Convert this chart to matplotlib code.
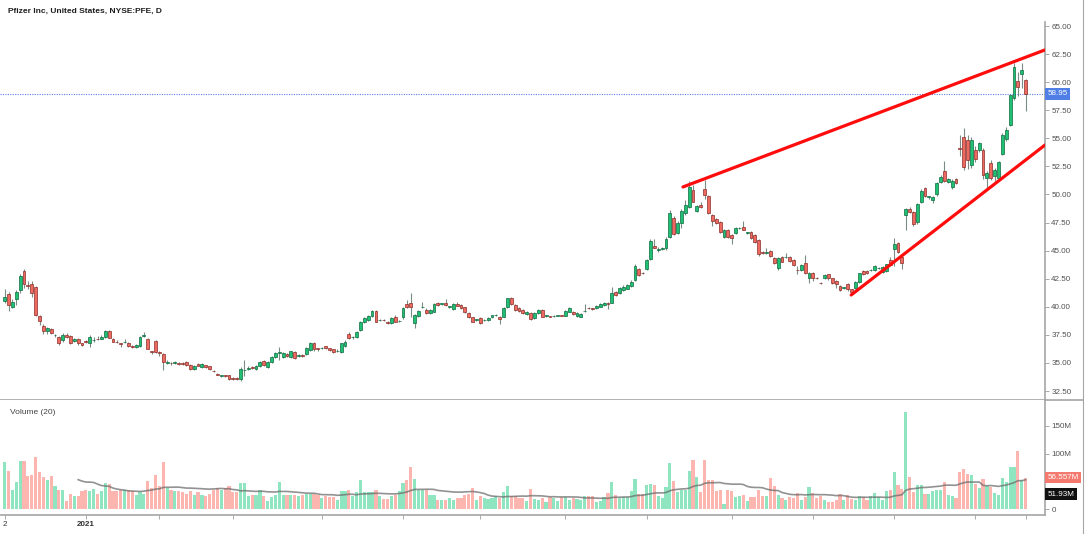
import numpy as np
import pandas as pd
import matplotlib
matplotlib.use("Agg")
import matplotlib.pyplot as plt
import matplotlib.transforms as mtransforms
from matplotlib.lines import Line2D

plt.rcParams['font.family'] = ['Liberation Sans', 'DejaVu Sans']

# ---------------- data (daily bars, PFE) ----------------
opens = [
    40.55, 41.10, 40.00, 40.70, 41.45, 43.20, 41.97, 42.00, 41.75, 39.20,
    38.30, 37.87, 38.05, 37.45, 37.30, 37.05, 37.47, 37.40, 36.95, 37.10,
    36.75, 36.95, 36.80, 37.00, 37.15, 37.16, 37.30, 37.80, 37.13, 36.90,
    36.75, 36.85, 36.80, 36.50, 36.40, 36.50, 37.40, 37.13, 36.05, 36.95,
    36.00, 35.80, 35.00, 35.00, 34.98, 35.00, 35.00, 35.10, 34.80, 34.50,
    34.90, 34.60, 34.80, 34.70, 34.30, 34.00, 33.85, 33.90, 33.90, 33.70,
    33.70, 33.55, 34.35, 34.50, 34.65, 34.50, 34.75, 35.17, 34.61, 35.08,
    35.50, 35.90, 35.55, 35.80, 35.55, 35.97, 35.65, 35.70, 35.80, 36.15,
    36.75, 36.25, 36.30, 36.50, 36.30, 36.20, 36.05, 36.00, 36.50, 37.55,
    37.30, 37.28, 37.93, 38.62, 38.82, 39.20, 39.60, 38.80, 38.80, 38.60,
    38.58, 39.06, 38.70, 39.06, 40.25, 40.30, 38.53, 39.15, 39.95, 39.71,
    39.47, 39.56, 40.30, 40.25, 40.30, 40.00, 39.78, 40.25, 40.16, 39.95,
    39.42, 39.06, 38.82, 38.97, 38.80, 38.82, 39.10, 39.24, 39.12, 39.12,
    39.95, 40.75, 40.16, 39.86, 39.71, 39.35, 39.47, 38.97, 39.42, 39.71,
    39.18, 39.15, 39.15, 39.20, 39.25, 39.20, 39.56, 39.56, 39.18, 39.12,
    39.60, 39.90, 39.85, 39.86, 40.00, 40.16, 40.30, 40.36, 41.32, 41.20,
    41.50, 41.61, 41.85, 42.38, 43.33, 43.00, 43.34, 44.23, 45.40, 45.10,
    45.15, 45.20, 46.20, 47.88, 46.54, 47.43, 48.32, 48.90, 50.40, 48.55,
    49.06, 50.46, 49.86, 48.17, 47.80, 47.56, 46.24, 46.84, 46.40, 46.54,
    47.00, 47.13, 46.60, 46.67, 46.40, 45.95, 44.85, 44.80, 45.00, 44.33,
    43.43, 44.40, 44.40, 44.40, 44.17, 43.30, 43.27, 43.87, 42.60, 43.00,
    42.55, 42.15, 42.60, 42.89, 42.52, 42.30, 41.85, 41.70, 42.00, 41.55,
    41.65, 42.23, 43.18, 43.19, 43.25, 43.27, 43.43, 43.10, 43.19, 44.17,
    45.15, 45.65, 44.42, 48.17, 48.73, 48.46, 47.52, 49.30, 50.55, 49.80,
    49.50, 50.00, 51.14, 52.12, 51.14, 50.64, 51.35, 54.15, 55.10, 54.85,
    52.63, 54.00, 53.96, 53.96, 51.44, 52.83, 51.65, 51.44, 53.60, 54.92,
    56.19, 58.56, 60.10, 60.73, 60.19,
]
highs = [
    41.60, 41.30, 40.70, 41.50, 42.90, 43.40, 42.30, 42.30, 41.85, 39.30,
    38.50, 38.20, 38.15, 37.60, 37.40, 37.70, 37.70, 37.50, 37.20, 37.20,
    36.80, 37.00, 37.50, 37.30, 37.40, 37.50, 37.95, 37.90, 37.20, 37.00,
    36.80, 37.10, 36.90, 36.60, 36.70, 37.40, 37.75, 37.20, 36.10, 37.00,
    36.05, 35.85, 35.30, 35.10, 35.15, 35.10, 35.05, 35.20, 34.90, 34.80,
    34.95, 35.00, 34.85, 34.75, 34.40, 34.10, 33.95, 33.95, 33.95, 33.75,
    33.75, 34.60, 35.30, 34.70, 34.75, 34.80, 35.20, 35.30, 35.20, 35.60,
    36.00, 36.40, 35.95, 35.90, 36.10, 36.05, 35.80, 35.80, 36.40, 36.85,
    36.85, 36.35, 36.45, 36.55, 36.35, 36.25, 36.20, 36.80, 37.00, 37.75,
    37.40, 37.80, 38.70, 39.10, 39.25, 39.70, 39.70, 38.95, 38.90, 38.70,
    39.05, 39.30, 38.80, 40.00, 40.60, 41.20, 39.35, 39.75, 40.40, 39.85,
    39.80, 40.35, 40.40, 40.35, 40.70, 40.10, 40.30, 40.40, 40.25, 40.00,
    39.50, 39.10, 38.90, 39.05, 38.90, 39.10, 39.30, 39.35, 39.20, 40.00,
    40.80, 40.85, 40.25, 39.95, 39.80, 39.65, 39.55, 39.55, 39.80, 39.80,
    39.25, 39.20, 39.25, 39.30, 39.30, 39.70, 39.95, 39.65, 39.50, 39.45,
    40.25, 39.95, 39.90, 40.15, 40.30, 40.45, 40.40, 41.80, 41.40, 41.75,
    41.90, 42.00, 42.35, 43.80, 43.45, 43.10, 44.25, 46.00, 46.00, 45.30,
    45.35, 46.20, 48.60, 48.10, 47.60, 48.70, 49.50, 51.20, 50.80, 49.10,
    49.30, 51.30, 49.95, 48.25, 47.90, 47.65, 46.90, 46.95, 46.50, 47.10,
    47.10, 47.60, 46.70, 46.75, 46.50, 46.00, 44.95, 45.20, 45.10, 44.40,
    44.40, 44.50, 44.80, 44.50, 44.25, 43.60, 43.80, 44.60, 43.10, 43.10,
    42.65, 42.25, 42.95, 42.95, 42.60, 42.35, 41.95, 41.80, 42.10, 41.60,
    42.30, 43.05, 43.25, 43.25, 43.35, 43.75, 43.50, 43.65, 43.85, 44.40,
    46.10, 45.75, 44.50, 48.80, 48.90, 48.55, 49.25, 50.50, 50.70, 49.90,
    49.85, 51.10, 51.70, 53.00, 51.50, 51.40, 51.45, 55.30, 55.90, 55.30,
    55.10, 54.30, 54.70, 54.10, 52.10, 53.10, 52.40, 53.00, 55.50, 56.00,
    58.90, 61.70, 60.90, 61.71, 60.25,
]
lows = [
    40.30, 39.65, 39.90, 40.20, 41.20, 41.70, 41.60, 40.90, 39.20, 38.40,
    37.60, 37.58, 37.60, 37.30, 36.60, 36.90, 37.20, 36.70, 36.90, 36.60,
    36.50, 36.80, 36.45, 36.90, 37.00, 37.10, 37.25, 37.20, 36.85, 36.75,
    36.40, 36.80, 36.45, 36.35, 36.30, 36.40, 37.30, 36.20, 35.80, 35.90,
    35.60, 34.40, 34.90, 34.85, 34.90, 34.80, 34.80, 34.75, 34.40, 34.40,
    34.70, 34.55, 34.55, 34.40, 34.15, 33.90, 33.75, 33.75, 33.45, 33.50,
    33.45, 33.40, 33.80, 34.40, 34.45, 34.40, 34.65, 34.70, 34.55, 35.00,
    35.40, 35.30, 35.45, 35.50, 35.45, 35.35, 35.55, 35.55, 35.70, 36.05,
    36.10, 36.10, 36.20, 36.25, 36.05, 35.90, 35.95, 35.90, 36.40, 37.15,
    37.15, 37.20, 37.85, 38.55, 38.75, 39.10, 38.60, 38.70, 38.70, 38.50,
    38.50, 38.60, 38.60, 38.95, 39.90, 39.10, 38.08, 39.05, 39.85, 39.35,
    39.40, 39.50, 40.05, 40.15, 40.10, 39.90, 39.70, 40.05, 39.80, 39.45,
    39.00, 38.60, 38.75, 38.50, 38.70, 38.75, 39.00, 39.15, 38.50, 39.05,
    39.90, 40.15, 39.65, 39.55, 39.35, 39.30, 38.80, 38.90, 39.35, 39.05,
    39.10, 39.05, 39.10, 39.15, 39.15, 39.15, 39.50, 39.25, 39.10, 39.05,
    39.55, 39.80, 39.75, 39.80, 39.95, 40.10, 39.80, 40.30, 40.95, 41.10,
    41.40, 41.55, 41.80, 42.30, 42.75, 42.90, 43.25, 44.15, 45.20, 44.90,
    45.05, 45.10, 46.10, 46.40, 46.45, 47.00, 48.20, 48.80, 49.30, 48.40,
    48.80, 49.60, 48.30, 47.20, 47.40, 46.60, 46.15, 46.15, 45.60, 46.45,
    46.90, 46.80, 46.50, 46.00, 45.70, 44.50, 44.70, 44.70, 44.45, 43.80,
    43.30, 43.95, 44.30, 44.00, 43.60, 42.90, 43.20, 42.90, 42.10, 42.30,
    42.45, 42.00, 42.50, 42.40, 42.00, 41.70, 41.40, 41.60, 41.40, 41.20,
    41.55, 42.15, 42.85, 42.90, 43.20, 43.20, 43.35, 43.00, 43.10, 43.65,
    43.60, 44.80, 43.40, 46.80, 48.35, 47.20, 47.35, 49.20, 49.80, 49.60,
    49.20, 49.90, 51.05, 51.10, 51.00, 50.50, 50.90, 53.40, 52.20, 52.30,
    52.40, 52.90, 53.80, 51.40, 50.45, 51.30, 51.20, 51.30, 53.50, 54.80,
    56.10, 58.40, 58.80, 59.50, 57.40,
]
closes = [
    40.85, 40.20, 40.45, 41.30, 42.75, 42.05, 41.85, 41.20, 39.25, 38.73,
    37.87, 38.14, 37.70, 37.50, 36.75, 37.50, 37.30, 36.80, 37.10, 36.75,
    36.60, 36.83, 37.35, 37.05, 37.10, 37.28, 37.85, 37.25, 36.90, 36.85,
    36.70, 36.90, 36.53, 36.45, 36.62, 37.33, 37.45, 36.27, 35.95, 35.98,
    35.85, 35.05, 35.05, 34.95, 35.05, 34.90, 34.90, 34.80, 34.45, 34.75,
    34.75, 34.90, 34.60, 34.45, 34.25, 33.95, 33.85, 33.85, 33.55, 33.60,
    33.55, 34.50, 34.40, 34.55, 34.55, 34.75, 35.05, 34.79, 35.11, 35.50,
    35.91, 35.93, 35.88, 35.60, 36.03, 35.41, 35.68, 35.63, 36.30, 36.75,
    36.21, 36.24, 36.33, 36.33, 36.15, 35.97, 36.10, 36.75, 36.90, 37.25,
    37.30, 37.73, 38.62, 39.03, 39.18, 39.65, 38.67, 38.80, 38.78, 38.58,
    38.97, 38.67, 38.70, 39.92, 40.00, 40.00, 39.27, 39.65, 39.97, 39.42,
    39.71, 40.25, 40.15, 40.25, 40.15, 40.00, 40.22, 40.10, 39.86, 39.50,
    39.06, 38.67, 38.82, 38.58, 38.85, 39.03, 39.25, 39.26, 38.88, 39.92,
    40.75, 40.25, 39.71, 39.65, 39.42, 39.56, 38.88, 39.47, 39.71, 39.12,
    39.18, 39.12, 39.20, 39.24, 39.22, 39.62, 39.86, 39.33, 39.42, 39.36,
    39.65, 39.85, 39.83, 40.07, 40.22, 40.36, 40.25, 41.20, 41.05, 41.65,
    41.80, 41.91, 42.23, 43.63, 42.83, 42.98, 44.17, 45.83, 45.25, 45.10,
    45.20, 46.07, 48.32, 46.48, 47.43, 48.55, 49.06, 50.63, 49.36, 48.97,
    48.86, 49.95, 48.38, 47.67, 47.50, 46.67, 46.84, 46.20, 46.10, 46.98,
    47.00, 46.84, 46.60, 46.10, 45.80, 44.70, 44.80, 44.83, 44.55, 43.88,
    44.33, 44.00, 44.42, 44.10, 43.72, 43.25, 43.72, 42.98, 43.04, 42.55,
    42.52, 42.10, 42.83, 42.52, 42.14, 42.00, 41.50, 41.70, 41.55, 41.35,
    42.23, 42.98, 42.92, 42.98, 43.29, 43.66, 43.43, 43.56, 43.78, 43.72,
    45.60, 44.90, 43.87, 48.67, 48.46, 47.37, 49.15, 50.33, 49.90, 49.80,
    49.75, 50.98, 51.58, 51.20, 51.35, 51.23, 51.00, 54.05, 52.47, 53.07,
    54.85, 53.20, 54.55, 51.74, 51.88, 51.50, 52.18, 52.92, 55.30, 55.74,
    58.86, 61.38, 59.60, 61.10, 58.95,
]
# volume in millions of shares
volumes = [
    85, 68, 35, 48, 86, 86, 59, 61, 94, 67,
    58, 52, 60, 41, 35, 35, 15, 27, 23, 24,
    32, 35, 32, 36, 27, 33, 47, 45, 32, 32,
    35, 35, 35, 32, 26, 30, 27, 50, 38, 61,
    41, 85, 38, 35, 33, 32, 30, 28, 32, 25,
    30, 25, 24, 28, 35, 38, 35, 38, 41, 30,
    30, 47, 47, 24, 25, 25, 35, 24, 15, 22,
    25, 48, 25, 25, 25, 25, 24, 26, 27, 27,
    27, 26, 20, 23, 22, 22, 17, 32, 32, 35,
    24, 30, 53, 30, 30, 30, 35, 24, 19, 19,
    24, 25, 33, 47, 53, 76, 55, 35, 35, 35,
    25, 25, 16, 16, 16, 20, 16, 20, 20, 25,
    27, 38, 16, 24, 20, 18, 20, 24, 20, 30,
    42, 24, 24, 20, 20, 15, 36, 19, 16,
    20, 13, 21, 20, 15, 21, 21, 17, 20, 19,
    17, 23, 23, 23, 13, 15, 21, 29, 49, 26,
    20, 21, 21, 32, 54, 28, 28, 43, 46, 44,
    24, 20, 40, 83, 51, 30, 35, 35, 69, 89,
    57, 31, 89, 52, 52, 32, 34, 9, 34, 32,
    21, 24, 26, 15, 21, 21, 35, 23, 23, 56,
    41, 26, 20, 17, 21, 20, 29, 17, 21, 39,
    29, 20, 23, 17, 12, 12, 17, 28, 17, 26,
    18, 17, 24, 21, 17, 23, 29, 21, 17, 32,
    34, 67, 44, 37, 174, 57, 31, 43, 43, 28,
    28, 32, 35, 35, 49, 26, 24, 20, 67, 73,
    64, 61, 46, 38, 54, 41, 40, 29, 26, 56,
    49, 76, 76, 105, 52, 56.557,
]

title_text = "Pfizer Inc, United States, NYSE:PFE, D"
volume_title = "Volume (20)"
last_price = 58.95
last_price_label = "58.95"
last_vol_label = "56.557M"
vol_ma_label = "51.93M"
price_ticks = [32.5, 35.0, 37.5, 40.0, 42.5, 45.0, 47.5, 50.0, 52.5, 55.0, 57.5, 60.0, 62.5, 65.0]
vol_ticks = [0, 100, 150]
vol_tick_labels = ["0", "100M", "150M"]
month_tick_idx = [0, 21, 40, 59, 82, 103, 123, 145, 166, 188, 209, 230, 251, 264]
month_tick_labels = ["2", "2021", "", "", "", "", "", "", "", "", "", "", "", ""]
# trend lines drawn on the chart: (bar index, price)
upper_trend_x = [175.4, 269.0]
upper_trend_y = [50.67, 62.87]
lower_trend_x = [218.9, 269.0]
lower_trend_y = [41.05, 54.40]

# ---------------- figure ----------------
W, H, DPI = 1087, 534, 100
fig = plt.figure(figsize=(W / DPI, H / DPI), dpi=DPI, facecolor="white")

def fx(px):
    return px / W

def fy(py):
    return 1 - py / H

ax_p = fig.add_axes([0, fy(400), fx(1045), fy(22) - fy(400)])
ax_v = fig.add_axes([0, fy(515), fx(1045), fy(400) - fy(515)])

O = np.array(opens); Hh = np.array(highs); L = np.array(lows); C = np.array(closes)
V = np.array(volumes, dtype=float)
n = len(C)
x = np.arange(n)
Hh = np.maximum(Hh, np.maximum(O, C))
L = np.minimum(L, np.minimum(O, C))
up = C >= O

green = "#1fbf74"; green_edge = "#0f6a40"
red = "#ee6a60"; red_edge = "#8a2d28"
wick = "#7b8c83"

ax_p.vlines(x, L, Hh, color=wick, lw=0.8, zorder=1)
bottom = np.minimum(O, C)
height = np.maximum(np.abs(C - O), 0.05)
ax_p.bar(x[up], height[up], bottom=bottom[up], width=0.74, color=green,
         edgecolor=green_edge, linewidth=0.5, zorder=2)
ax_p.bar(x[~up], height[~up], bottom=bottom[~up], width=0.74, color=red,
         edgecolor=red_edge, linewidth=0.5, zorder=2)

xmin, xmax = -4.7 / 3.867, (1045 - 4.7) / 3.867
ax_p.set_xlim(xmin, xmax)
ax_p.set_ylim(32.5 + (391 - 400) / 11.23, 32.5 + (391 - 22) / 11.23)

# last price line + label
ax_p.axhline(last_price, color="#5b7fe8", lw=0.8, ls=(0, (1, 1.2)), zorder=0.5)
trans_p = mtransforms.blended_transform_factory(ax_p.transAxes, ax_p.transData)
ax_p.text(1.0025, last_price, last_price_label, transform=trans_p, ha="left", va="center",
          fontsize=5.8, color="white", clip_on=False, zorder=5,
          bbox=dict(boxstyle="square,pad=0.28", fc="#4f7fe6", ec="none"))

# trend lines
ax_p.plot(upper_trend_x, upper_trend_y, color="#ff0d0d", lw=2.3, solid_capstyle="round", zorder=4)
ax_p.plot(lower_trend_x, lower_trend_y, color="#ff0d0d", lw=2.3, solid_capstyle="round", zorder=4)

ax_p.yaxis.tick_right()
ax_p.set_yticks(price_ticks)
ax_p.set_yticklabels([f"{t:.2f}" for t in price_ticks])
ax_p.tick_params(axis="y", direction="out", length=3, width=0.6, color="#9a9a9a",
                 labelcolor="#505050", labelsize=5.8, pad=1.5)
ax_p.set_xticks([])
for s in ["left", "top"]:
    ax_p.spines[s].set_visible(False)
ax_p.spines["right"].set_color("#a6a6a6"); ax_p.spines["right"].set_linewidth(1.2)
ax_p.spines["bottom"].set_color("#a6a6a6"); ax_p.spines["bottom"].set_linewidth(1.2)

# ---------------- volume ----------------
vcol = np.where(up, "#8fe5c0", "#fcb5af")
ax_v.bar(x, V, width=0.82, color=vcol, linewidth=0, zorder=1)
ma = pd.Series(V).rolling(20).mean()
ax_v.plot(x, ma, color="#6e6e6e", lw=1.2, alpha=0.75, zorder=3)
ax_v.set_xlim(xmin, xmax)
ax_v.set_ylim(-6 / 0.56, 110 / 0.56)

ax_v.yaxis.tick_right()
ax_v.set_yticks(vol_ticks)
ax_v.set_yticklabels(vol_tick_labels)
ax_v.tick_params(axis="y", direction="out", length=3, width=0.6, color="#9a9a9a",
                 labelcolor="#505050", labelsize=5.8, pad=1.5)
ax_v.set_xticks(month_tick_idx)
ax_v.set_xticklabels(month_tick_labels)
ax_v.tick_params(axis="x", direction="out", length=3, width=0.6, color="#9a9a9a",
                 labelcolor="#333333", labelsize=5.8, pad=1.0)
for lab in ax_v.get_xticklabels():
    if lab.get_text() == "2021":
        lab.set_fontweight("bold")
for s in ["left", "top"]:
    ax_v.spines[s].set_visible(False)
ax_v.spines["right"].set_color("#a6a6a6"); ax_v.spines["right"].set_linewidth(1.2)
ax_v.spines["bottom"].set_color("#a6a6a6"); ax_v.spines["bottom"].set_linewidth(1.2)

trans_v = mtransforms.blended_transform_factory(ax_v.transAxes, ax_v.transData)
ax_v.annotate(last_vol_label, xy=(1.0025, V[-1]), xycoords=trans_v, ha="left", va="center",
              fontsize=5.8, color="white", annotation_clip=False, zorder=5,
              bbox=dict(boxstyle="square,pad=0.28", fc="#f47a70", ec="none"))
ax_v.annotate(vol_ma_label, xy=(1.0025, V[-1]), xycoords=trans_v, xytext=(0, -11.9),
              textcoords="offset points", ha="left", va="center",
              fontsize=5.8, color="white", annotation_clip=False, zorder=5,
              bbox=dict(boxstyle="square,pad=0.28", fc="#111111", ec="none"))

# frame lines
fig.add_artist(Line2D([fx(1045), fx(1083)], [fy(400), fy(400)], color="#a6a6a6", lw=1.2))
fig.add_artist(Line2D([fx(1083), fx(1083)], [0, 1], color="#a6a6a6", lw=0.8))

# titles
fig.text(fx(8), fy(11), title_text, ha="left", va="center", fontsize=6.0,
         fontweight="bold", color="#1e1e1e")
fig.text(fx(10), fy(413), volume_title, ha="left", va="center", fontsize=6.0, color="#444444")

fig.savefig("out.png", dpi=DPI, facecolor="white")
